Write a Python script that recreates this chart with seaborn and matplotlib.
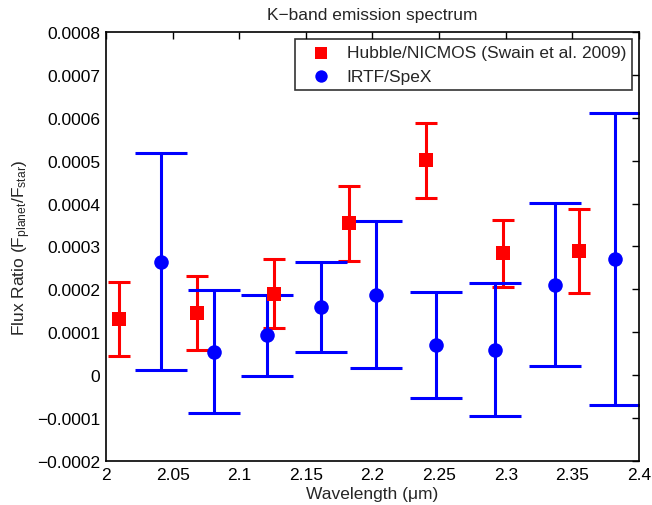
import matplotlib
matplotlib.use("Agg")
import matplotlib.pyplot as plt
import seaborn as sns
import numpy as np
import pandas as pd
from matplotlib.ticker import FixedLocator, FuncFormatter

# ---- data ----
hst_wave = [2.010, 2.068, 2.126, 2.182, 2.240, 2.298, 2.355]
hst_flux = [0.000131, 0.000145, 0.000190, 0.000354, 0.000501, 0.000284, 0.000290]
hst_err = [0.000087, 0.000087, 0.000080, 0.000087, 0.000087, 0.000078, 0.000098]

irtf_wave = [2.041, 2.081, 2.121, 2.161, 2.203, 2.2475, 2.292, 2.337, 2.382]
irtf_flux = [0.000264, 0.000055, 0.000093, 0.000159, 0.000188, 0.000070, 0.000059, 0.000211, 0.000270]
irtf_err = [0.000253, 0.000143, 0.000094, 0.000104, 0.000172, 0.000123, 0.000155, 0.000190, 0.000340]

x_ticks = [2.0, 2.05, 2.1, 2.15, 2.2, 2.25, 2.3, 2.35, 2.4]
y_ticks = [-0.0002, -0.0001, 0, 0.0001, 0.0002, 0.0003, 0.0004, 0.0005, 0.0006, 0.0007, 0.0008]

hst_label = "Hubble/NICMOS (Swain et al. 2009)"
irtf_label = "IRTF/SpeX"

sns.set_style("white")
plt.rcParams['font.family'] = ['Liberation Sans', 'DejaVu Sans']
plt.rcParams['mathtext.fontset'] = 'custom'
plt.rcParams['mathtext.rm'] = 'Liberation Sans'
plt.rcParams['mathtext.it'] = 'Liberation Sans:italic'

FS = 12.5

fig = plt.figure(figsize=(6.52, 5.06), dpi=100)
ax = fig.add_axes([0.1626, 0.0870, 0.8174, 0.8478])

df_h = pd.DataFrame({"wave": hst_wave, "flux": hst_flux})
df_i = pd.DataFrame({"wave": irtf_wave, "flux": irtf_flux})

ax.errorbar(hst_wave, hst_flux, yerr=hst_err, fmt='none', ecolor='#ff0000',
            elinewidth=2.2, capsize=8, capthick=2.2, zorder=2)
ax.errorbar(irtf_wave, irtf_flux, yerr=irtf_err, fmt='none', ecolor='#0000ff',
            elinewidth=2.2, capsize=18.5, capthick=2.2, zorder=2)

sns.scatterplot(data=df_h, x="wave", y="flux", ax=ax, marker='s', s=90,
                color='#ff0000', edgecolor='#ff0000', linewidth=0, label=hst_label, zorder=3)
sns.scatterplot(data=df_i, x="wave", y="flux", ax=ax, marker='o', s=110,
                color='#0000ff', edgecolor='#0000ff', linewidth=0, label=irtf_label, zorder=3)

ax.set_xlim(2.0, 2.4)
ax.set_ylim(-0.0002, 0.0008)
ax.xaxis.set_major_locator(FixedLocator(x_ticks))
ax.yaxis.set_major_locator(FixedLocator(y_ticks))
ax.xaxis.set_major_formatter(FuncFormatter(lambda v, p: f"{v:g}"))

def yfmt(v, p):
    if abs(v) < 1e-12:
        return "0"
    s = f"{abs(v):.4f}"
    return ("\u2212" if v < 0 else "") + s
ax.yaxis.set_major_formatter(FuncFormatter(yfmt))

ax.tick_params(direction='in', top=True, right=True, length=5, width=1,
               labelsize=FS, colors='black', pad=4)
for sp in ax.spines.values():
    sp.set_visible(True)
    sp.set_color('black')
    sp.set_linewidth(1.2)

ax.set_xlabel("Wavelength (\u03bcm)", fontsize=FS, labelpad=3)
ax.set_ylabel(r"Flux Ratio (F$_{\rm planet}$/F$_{\rm star}$)", fontsize=FS, labelpad=3)
ax.set_title("K\u2212band emission spectrum", fontsize=FS, pad=9)

leg = ax.legend(loc='upper right', fontsize=FS, frameon=True, fancybox=False,
                edgecolor='black', borderpad=0.35, handletextpad=0.4, handlelength=2.2,
                labelspacing=0.5, borderaxespad=0.4, markerscale=0.85)
leg.get_frame().set_linewidth(1.2)

fig.savefig("out.png", dpi=100)
